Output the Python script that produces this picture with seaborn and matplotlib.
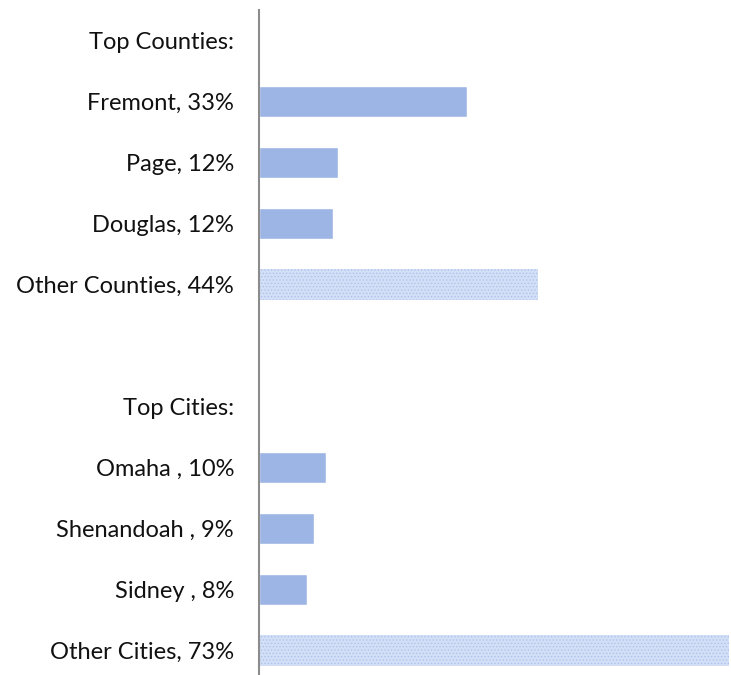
import pandas as pd
import matplotlib
matplotlib.use('Agg')
import matplotlib.pyplot as plt
import seaborn as sns

# Data
labels = ['Top Counties:', 'Fremont, 33%', 'Page, 12%', 'Douglas, 12%', 'Other Counties, 44%',
          '', 'Top Cities:', 'Omaha , 10%', 'Shenandoah , 9%', 'Sidney , 8%', 'Other Cities, 73%']
values = [0, 32.5, 12.3, 11.6, 43.6, 0, 0, 10.5, 8.6, 7.5, 73.4]
is_other = [False, False, False, False, True, False, False, False, False, False, True]

df = pd.DataFrame({'label': [f'{i}' for i in range(len(labels))], 'value': values})

sns.set_style('white')
plt.rcParams['font.family'] = ['Lato', 'DejaVu Sans']
plt.rcParams['hatch.linewidth'] = 0.6

fig = plt.figure(figsize=(7.31, 6.75), dpi=100)
ax = fig.add_axes([259 / 731, -6 / 675, 472 / 731, 671 / 675])

sns.barplot(data=df, x='value', y='label', orient='h', color='#9DB5E4',
            width=0.52, saturation=1, ax=ax)

# "Other" rows get the light dotted fill
for bar, other in zip(ax.patches, is_other):
    if other:
        bar.set_facecolor('#D3DFF6')
        bar.set_edgecolor('#AFC4EC')
        bar.set_hatch('.....')
        bar.set_linewidth(0)

ax.set_xlim(0, 73.75)
ax.set_ylim(10.5, -0.5)
ax.set_yticks(range(len(labels)))
ax.set_yticklabels(labels, fontsize=17, color='#111111')
ax.tick_params(axis='y', length=0, pad=18)
ax.set_xticks([])
ax.set_xlabel('')
ax.set_ylabel('')
for side in ['top', 'right', 'bottom']:
    ax.spines[side].set_visible(False)
ax.spines['left'].set_color('#8C8C8C')
ax.spines['left'].set_linewidth(1.5)

fig.savefig('out.png', dpi=100)
